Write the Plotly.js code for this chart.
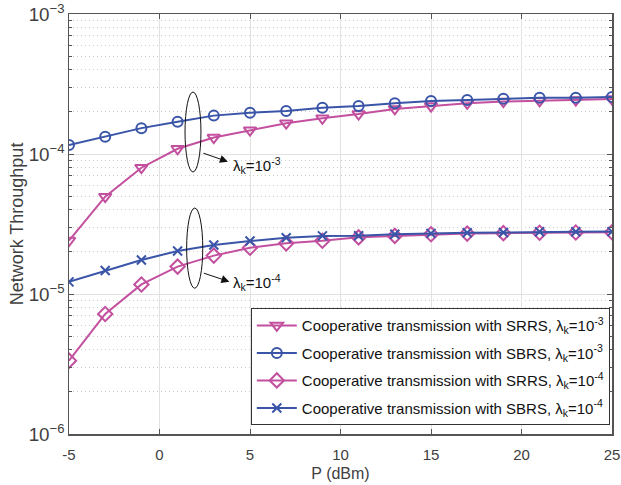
<!DOCTYPE html>
<html><head><meta charset="utf-8">
<script src="https://cdn.plot.ly/plotly-3.0.1.min.js"></script>
<style>html,body{margin:0;padding:0;background:#fff}#chart{width:621px;height:485px}</style>
</head><body><div id="chart"></div>
<script>
const P = [-5,-3,-1,1,3,5,7,9,11,13,15,17,19,21,23,25];
const srrs3 = [2.41e-5,4.96e-5,7.98e-5,1.09e-4,1.31e-4,1.48e-4,1.66e-4,1.80e-4,1.93e-4,2.10e-4,2.20e-4,2.30e-4,2.37e-4,2.40e-4,2.43e-4,2.47e-4];
const sbrs3 = [1.16e-4,1.33e-4,1.53e-4,1.70e-4,1.88e-4,1.97e-4,2.03e-4,2.14e-4,2.20e-4,2.30e-4,2.39e-4,2.43e-4,2.48e-4,2.52e-4,2.52e-4,2.55e-4];
const srrs4 = [3.34e-6,7.2e-6,1.17e-5,1.57e-5,1.88e-5,2.14e-5,2.30e-5,2.40e-5,2.54e-5,2.60e-5,2.67e-5,2.70e-5,2.72e-5,2.74e-5,2.75e-5,2.76e-5];
const sbrs4 = [1.22e-5,1.47e-5,1.75e-5,2.03e-5,2.24e-5,2.39e-5,2.52e-5,2.60e-5,2.61e-5,2.67e-5,2.71e-5,2.74e-5,2.75e-5,2.78e-5,2.78e-5,2.79e-5];
const names = [
 'Cooperative transmission with SRRS, λ<sub>k</sub>=10<sup>-3</sup>',
 'Cooperative transmission with SBRS, λ<sub>k</sub>=10<sup>-3</sup>',
 'Cooperative transmission with SRRS, λ<sub>k</sub>=10<sup>-4</sup>',
 'Cooperative transmission with SBRS, λ<sub>k</sub>=10<sup>-4</sup>'
];
const xTicks = [-5,0,5,10,15,20,25];
const xTickText = xTicks.map(String);

const BLUE = '#3A55A8', PINK = '#C3509F';
function tr(y, name, color, sym, size, g){
  return {x:P, y:y, name:name, legendgroup:g, type:'scatter', mode:'lines+markers',
    line:{color:color, width:2},
    marker:{symbol:sym, size:size, color:color, line:{color:color, width:2}}};
}
const data = [
  tr(srrs3, names[0], PINK, 'triangle-down-open', 11, 'a'),
  tr(sbrs3, names[1], BLUE, 'circle-open', 10, 'b'),
  tr(srrs4, names[2], PINK, 'diamond-open', 11, 'c'),
  tr(sbrs4, names[3], BLUE, 'x-thin-open', 9, 'd')
];
const axcol = '#555555', txt = '#404040';
const layout = {
  width:621, height:485,
  margin:{l:69, r:9, t:14, b:51},
  paper_bgcolor:'#fff', plot_bgcolor:'#fff',
  font:{family:'Liberation Sans, Arial, sans-serif', color:txt, size:15},
  showlegend:true,
  legend:{x:0.996, y:0.021, xanchor:'right', yanchor:'bottom',
    bgcolor:'#fff', bordercolor:'#333', borderwidth:1,
    font:{size:15, color:'#111'}, tracegroupgap:5, itemwidth:40},
  xaxis:{range:[-5,25], tickvals:xTicks, ticktext:xTickText, ticks:'inside', ticklen:5, tickcolor:axcol,
    showline:true, linecolor:axcol, linewidth:1.5, mirror:'ticks',
    showgrid:true, gridcolor:'#e2e2e2', zeroline:false,
    tickfont:{size:15, color:txt}, ticklabelstandoff:6,
    title:{text:'P (dBm)', font:{size:16, color:txt}, standoff:6}},
  yaxis:{type:'log', range:[-6,-3], dtick:1, exponentformat:'power',
    ticks:'inside', ticklen:5, tickcolor:axcol,
    showline:true, linecolor:axcol, linewidth:1.5, mirror:'ticks',
    showgrid:true, gridcolor:'#e2e2e2', zeroline:false,
    tickfont:{size:15, color:txt},
    minor:{ticks:'inside', ticklen:3, tickcolor:axcol, showgrid:true, griddash:'1px,3px', gridcolor:'#cccccc', gridwidth:1},
    title:{text:'Network Throughput', font:{size:18, color:txt}, standoff:0}},
  shapes:[
    {type:'circle', xref:'x', yref:'y', x0:1.41, x1:2.29, y0:7.44e-5, y1:2.77e-4, line:{color:'#111', width:1}},
    {type:'circle', xref:'x', yref:'y', x0:1.50, x1:2.39, y0:1.10e-5, y1:4.11e-5, line:{color:'#111', width:1}}
  ],
  annotations:[
    {x:3.78, y:-4.055, xref:'x', yref:'y', text:'', showarrow:true, ax:-26, ay:-9, arrowhead:2, arrowsize:1.6, arrowwidth:1, arrowcolor:'#111'},
    {x:3.86, y:-4.912, xref:'x', yref:'y', text:'', showarrow:true, ax:-27, ay:-9, arrowhead:2, arrowsize:1.6, arrowwidth:1, arrowcolor:'#111'},
    {x:3.95, y:-4.079, xref:'x', yref:'y', xanchor:'left', yanchor:'middle', showarrow:false, text:'λ<sub>k</sub>=10<sup>-3</sup>', font:{size:15, color:'#111'}},
    {x:3.95, y:-4.921, xref:'x', yref:'y', xanchor:'left', yanchor:'middle', showarrow:false, text:'λ<sub>k</sub>=10<sup>-4</sup>', font:{size:15, color:'#111'}}
  ]
};
Plotly.newPlot('chart', data, layout, {displayModeBar:false, staticPlot:true});
</script></body></html>
